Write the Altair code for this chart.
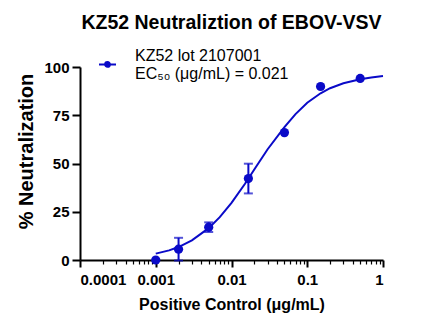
import altair as alt
import pandas as pd

series_name = "KZ52 lot 2107001"
ec50_text = "EC₅₀ (μg/mL) = 0.021"

conc = [0.001, 0.002, 0.005, 0.0167, 0.05, 0.15, 0.5]
neut = [0.0, 5.6, 17.0, 42.2, 66.0, 89.9, 94.1]
err = [0.0, 5.9, 2.5, 7.7, 0.0, 0.0, 0.0]

fit_x = [0.001, 0.0015, 0.002, 0.003, 0.005, 0.007, 0.01, 0.015, 0.021,
         0.03, 0.05, 0.07, 0.1, 0.15, 0.2, 0.3, 0.5, 0.7, 1.0]
fit_y = [3.3, 5.0, 6.7, 10.2, 16.5, 22.2, 29.6, 39.4, 48.2,
         57.4, 68.8, 75.6, 81.5, 86.4, 89.0, 91.6, 93.6, 94.6, 95.3]

x_major = [0.0001, 0.001, 0.01, 0.1, 1]
x_ticks = [m * e for e in x_major[:-1] for m in range(1, 10)] + [1]
y_ticks = [0, 25, 50, 75, 100]

blue = "#0a0ac8"
font = "Liberation Sans"

pts = pd.DataFrame({"conc": conc, "neut": neut, "err": err, "series": series_name})
pts["lo"] = pts["neut"] - pts["err"]
pts["hi"] = pts["neut"] + pts["err"]
fit = pd.DataFrame({"conc": fit_x, "neut": fit_y, "series": series_name})

major_test = "abs(log(datum.value)/LN10 - round(log(datum.value)/LN10)) < 0.001"

xscale = alt.Scale(type="log", domain=[0.0001, 1])
yscale = alt.Scale(domain=[0, 100], nice=False)

x_axis = alt.Axis(
    values=x_ticks,
    title="Positive Control (μg/mL)",
    labelExpr=f"({major_test}) ? format(datum.value, '~g') : ''",
    tickSize={"condition": {"test": major_test, "value": 7}, "value": 4},
    tickWidth={"condition": {"test": major_test, "value": 2}, "value": 1.2},
    labelPadding=5,
    titlePadding=9,
    titleFontSize=16,
    grid=False,
)
y_axis = alt.Axis(
    values=y_ticks,
    title="% Neutralization",
    tickSize=8,
    tickWidth=2,
    labelPadding=3,
    titlePadding=7,
    titleFontSize=20,
    titleY=84,
    grid=False,
)

sym = "M-1,1.05L1,1.05M0.28,1.05A0.28,0.28,0,1,1,-0.28,1.05A0.28,0.28,0,1,1,0.28,1.05Z"

color = alt.Color(
    "series:N",
    scale=alt.Scale(domain=[series_name], range=[blue]),
    legend=alt.Legend(
        title=None,
        orient="none",
        legendX=18,
        legendY=-21,
        padding=0,
        symbolType=sym,
        symbolSize=289,
        symbolStrokeWidth=2,
        symbolFillColor=blue,
        symbolStrokeColor=blue,
        labelFont=font,
        labelFontSize=16,
        labelColor="black",
        labelOffset=18,
        labelLimit=400,
        labelExpr=f"['{series_name}', '{ec50_text}']",
    ),
)

base_x = alt.X("conc:Q", scale=xscale, axis=x_axis)
base_y = alt.Y("neut:Q", scale=yscale, axis=y_axis)

curve = alt.Chart(fit).mark_line(strokeWidth=2).encode(x=base_x, y=base_y, color=color)

bars = alt.Chart(pts).transform_filter("datum.err > 0").mark_rule(strokeWidth=2, color=blue).encode(
    x="conc:Q", y="lo:Q", y2="hi:Q"
)
caps_hi = alt.Chart(pts).transform_filter("datum.err > 0").mark_tick(
    orient="horizontal", size=9, thickness=2, color=blue
).encode(x="conc:Q", y="hi:Q")
caps_lo = alt.Chart(pts).transform_filter("datum.err > 0").mark_tick(
    orient="horizontal", size=9, thickness=2, color=blue
).encode(x="conc:Q", y="lo:Q")

points = alt.Chart(pts).mark_circle(size=85, opacity=1).encode(x=base_x, y=base_y, color=color)

chart = (
    alt.layer(curve, bars, caps_hi, caps_lo, points)
    .properties(
        width=303,
        height=193,
        autosize=alt.AutoSizeParams(type="none"),
        padding={"left": 80, "top": 67, "right": 49, "bottom": 69},
        title=alt.TitleParams(
            "KZ52 Neutraliztion of EBOV-VSV",
            font=font,
            fontSize=19.5,
            fontWeight="bold",
            anchor="middle",
            offset=13,
            color="black",
        ),
        background="white",
    )
    .configure_view(stroke=None)
    .configure_axis(
        labelFont=font,
        labelFontSize=15,
        labelFontWeight="bold",
        labelColor="black",
        titleFont=font,
        titleFontWeight="bold",
        titleColor="black",
        domainColor="black",
        domainWidth=2,
        tickColor="black",
    )
)

chart.save("out.html", embed_options={"renderer": "svg", "actions": False})
